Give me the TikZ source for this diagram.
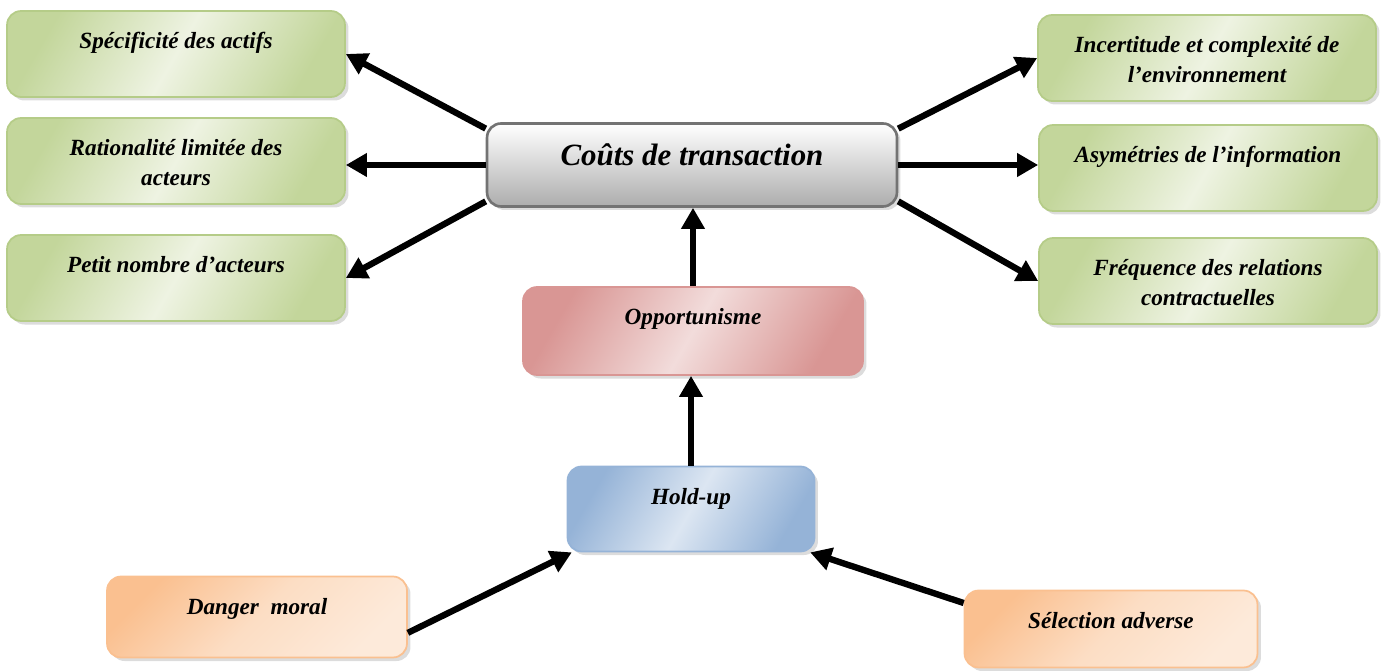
\documentclass[tikz,border=0pt]{standalone}
\usepackage{fontspec}
\setmainfont{Liberation Serif}
\usepackage{tikz}
\usetikzlibrary{calc,shadows,arrows.meta}

\definecolor{gdark}{HTML}{C3D69B}
\definecolor{glight}{HTML}{EEF3E2}
\definecolor{gline}{HTML}{B5CC88}
\definecolor{pdark}{HTML}{D99694}
\definecolor{plight}{HTML}{F2DCDB}
\definecolor{bdark}{HTML}{95B3D7}
\definecolor{blight}{HTML}{DCE6F2}
\definecolor{odark}{HTML}{FAC090}
\definecolor{olight}{HTML}{FDEADA}

\newcommand{\boxtext}[4]{\parbox[c][#2][t]{#1}{\centering\rule{0pt}{#3}#4}}

\begin{document}
\begin{tikzpicture}[x=0.02cm,y=-0.02cm,
    box/.style={rounded corners=8pt, inner sep=0pt, line width=1pt,
      font=\fontsize{13.2}{17}\selectfont\bfseries\itshape,
      drop shadow={shadow xshift=2pt, shadow yshift=-2pt, fill=gray!55}},
    gbox/.style={box, draw=gline, left color=gdark, right color=gdark,
      middle color=glight, shading angle=60},
    pbox/.style={box, draw=pdark, left color=pdark, right color=pdark,
      middle color=plight, shading angle=60},
    bbox/.style={box, draw=bdark, left color=bdark, right color=bdark,
      middle color=blight, shading angle=60},
    obox/.style={box, draw=odark, left color=odark, right color=olight,
      middle color=olight!70!odark, shading angle=45},
    cbox/.style={box, draw=gray!90!black, line width=1.5pt, top color=white,
      bottom color=gray!65, font=\fontsize{17.6}{20}\selectfont\bfseries\itshape},
    arr/.style={line width=3.6pt, -{Triangle[length=0.42cm,width=0.45cm]}}]

  \useasboundingbox (0,0) rectangle (1383,671);

  %% Central box
  \node[cbox] (cout) at (692,165) {\boxtext{8.2cm}{1.66cm}{0.85cm}{Coûts de transaction}};

  %% Green boxes, left and right
  \foreach \name/\x/\y/\txt in {
      spec/176/54/{Spécificité des actifs},
      rat/176/161/{Rationalité limitée des\\acteurs},
      pet/176/278/{Petit nombre d’acteurs},
      inc/1207/58/{Incertitude et complexité de\\l’environnement},
      asym/1208/168/{Asymétries de l’information},
      freq/1208/281/{Fréquence des relations\\contractuelles}}
  {
    \node[gbox] (\name) at (\x,\y) {\boxtext{6.76cm}{1.72cm}{0.76cm}{\txt}};
  }

  %% Lower chain
  \node[pbox] (opp)  at (693,331)  {\boxtext{6.8cm}{1.76cm}{0.76cm}{Opportunisme}};
  \node[bbox] (hold) at (691,509)  {\boxtext{4.94cm}{1.7cm}{0.76cm}{Hold-up}};
  \node[obox] (dm)   at (257,617)  {\boxtext{6.0cm}{1.62cm}{0.76cm}{Danger~~moral}};
  \node[obox] (sel)  at (1111,629) {\boxtext{5.86cm}{1.54cm}{0.76cm}{Sélection adverse}};

  %% Arrows out of the central box
  \draw[arr] (cout.170) -- (spec.east);
  \draw[arr] (cout.west) -- (cout.west -| rat.east);
  \draw[arr] (cout.190) -- (pet.east);
  \draw[arr] (cout.10) -- (inc.west);
  \draw[arr] (cout.east) -- (cout.east -| asym.west);
  \draw[arr] (cout.350) -- (freq.west);

  %% Arrows up the chain
  \draw[arr] (opp.north) -- (opp.north |- cout.south);
  \draw[arr] (hold.north) -- (hold.north |- opp.south);
  \draw[arr] (dm.-6) -- (hold.-160);
  \draw[arr] (sel.170) -- (hold.-20);

\end{tikzpicture}
\end{document}
